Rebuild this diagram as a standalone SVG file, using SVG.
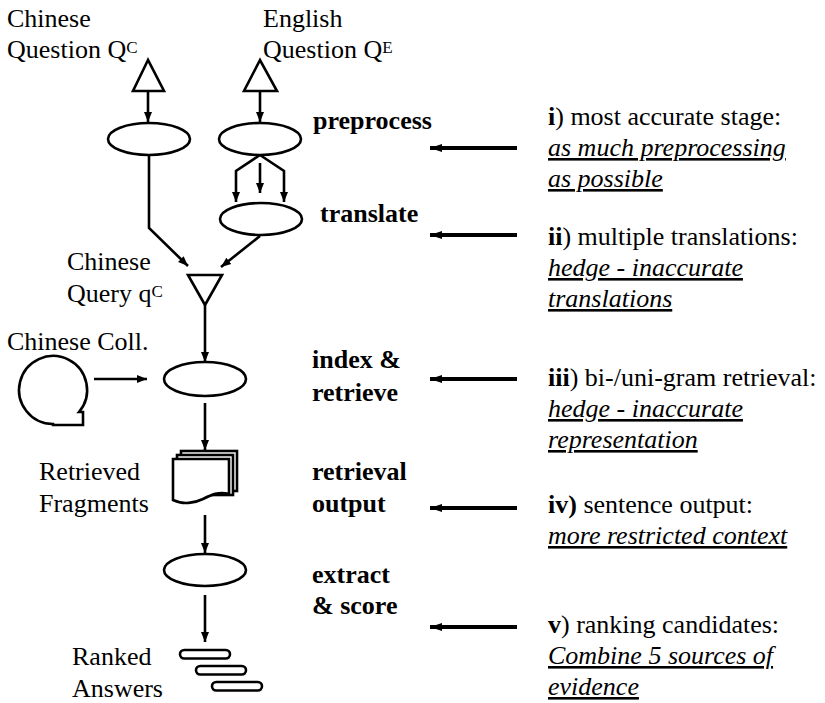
<svg xmlns="http://www.w3.org/2000/svg" width="825" height="703" viewBox="0 0 825 703" font-family="'Liberation Serif', 'Times New Roman', Times, serif">
  <style>
    text { font-size: 26px; fill: #000; }
    .b { font-weight: bold; }
    .note { text-decoration: underline; font-style: italic; }
    .sup { font-size: 17px; }
    .shape { fill: #fff; stroke: #000; stroke-width: 2.6; }
    .wire { fill: none; stroke: #000; stroke-width: 2.6; }
    .feed { fill: none; stroke: #000; stroke-width: 4; }
  </style>
  <defs>
    <marker id="head" markerUnits="userSpaceOnUse" viewBox="0 0 10 10" refX="10" refY="5" markerWidth="10" markerHeight="10" orient="auto">
      <path d="M0,1 L10,5 L0,9 Z" fill="#000"/>
    </marker>
    <marker id="bighead" markerUnits="userSpaceOnUse" viewBox="0 0 12 10" refX="12" refY="5" markerWidth="12" markerHeight="10" orient="auto">
      <path d="M0,1 L12,5 L0,9 Z" fill="#000"/>
    </marker>
  </defs>

  <rect width="825" height="703" fill="#fff"/>

  <!-- input questions -->
  <g id="chinese-question">
    <text x="7" y="27">Chinese</text>
    <text x="7" y="58">Question Q<tspan class="sup" dy="-5">C</tspan></text>
    <path class="shape" d="M148,60 L133,91 L164,91 Z"/>
  </g>
  <g id="english-question">
    <text x="263" y="27">English</text>
    <text x="263" y="58">Question Q<tspan class="sup" dy="-5">E</tspan></text>
    <path class="shape" d="M260,60 L244,91 L277,91 Z"/>
  </g>

  <!-- preprocessing -->
  <g id="preprocess-zh">
    <ellipse class="shape" cx="149" cy="139" rx="41" ry="16"/>
  </g>
  <g id="preprocess-en">
    <ellipse class="shape" cx="260" cy="139" rx="41" ry="16"/>
    <text class="b" x="313" y="129">preprocess</text>
  </g>

  <!-- translation -->
  <g id="translate">
    <ellipse class="shape" cx="261" cy="219" rx="41" ry="16"/>
    <text class="b" x="320" y="222">translate</text>
  </g>

  <!-- query -->
  <g id="chinese-query">
    <text x="67" y="270">Chinese</text>
    <text x="67" y="302">Query q<tspan class="sup" dy="-5">C</tspan></text>
    <path class="shape" d="M188,275 L222,275 L205,305 Z"/>
  </g>

  <!-- collection -->
  <g id="chinese-collection">
    <text x="7" y="350">Chinese Coll.</text>
    <path class="shape" d="M53,424 A34,34 0 1 1 79,412 L83,412 L83,425 L53,425 Z"/>
  </g>

  <!-- retrieval -->
  <g id="index-retrieve">
    <ellipse class="shape" cx="205" cy="379" rx="41" ry="17"/>
    <text class="b" x="312" y="368">index &amp;</text>
    <text class="b" x="312" y="401">retrieve</text>
  </g>

  <g id="retrieved-fragments">
    <text x="39" y="480">Retrieved</text>
    <text x="39" y="512">Fragments</text>
    <rect class="shape" x="181" y="451" width="56" height="40"/>
    <rect class="shape" x="177" y="455" width="56" height="40"/>
    <path class="shape" d="M173,459 H229 V494 C219,491 211,495 203,499 C195,503 183,505 173,500 Z"/>
    <text class="b" x="312" y="480">retrieval</text>
    <text class="b" x="312" y="512">output</text>
  </g>

  <g id="extract-score">
    <ellipse class="shape" cx="205" cy="570" rx="41" ry="16"/>
    <text class="b" x="312" y="583">extract</text>
    <text class="b" x="312" y="614">&amp; score</text>
  </g>

  <g id="ranked-answers">
    <text x="72" y="665">Ranked</text>
    <text x="72" y="697">Answers</text>
    <rect class="shape" x="180" y="650" width="50" height="8.5" rx="4.25"/>
    <rect class="shape" x="196" y="666" width="50" height="8.5" rx="4.25"/>
    <rect class="shape" x="212" y="682" width="50" height="8.5" rx="4.25"/>
  </g>

  <!-- connectors -->
  <g id="connectors">
    <path class="wire" d="M148,91 V122" marker-end="url(#head)"/>
    <path class="wire" d="M260,91 V122" marker-end="url(#head)"/>
    <path class="wire" d="M260,155 L236,171 V202" marker-end="url(#head)"/>
    <path class="wire" d="M260,163 V193" marker-end="url(#head)"/>
    <path class="wire" d="M260,155 L284,171 V202" marker-end="url(#head)"/>
    <path class="wire" d="M149,155 V228 L188,266" marker-end="url(#head)"/>
    <path class="wire" d="M260,236 L221,267" marker-end="url(#head)"/>
    <path class="wire" d="M205,305 V362" marker-end="url(#head)"/>
    <path class="wire" d="M94,379 H147" marker-end="url(#head)"/>
    <path class="wire" d="M205,403 V450" marker-end="url(#head)"/>
    <path class="wire" d="M205,515 V553" marker-end="url(#head)"/>
    <path class="wire" d="M205,595 V642" marker-end="url(#head)"/>
  </g>

  <!-- stage notes -->
  <g id="feedback-arrows">
    <path class="feed" d="M517,148 H430" marker-end="url(#bighead)"/>
    <path class="feed" d="M517,235 H430" marker-end="url(#bighead)"/>
    <path class="feed" d="M517,379 H430" marker-end="url(#bighead)"/>
    <path class="feed" d="M517,508 H430" marker-end="url(#bighead)"/>
    <path class="feed" d="M517,627 H430" marker-end="url(#bighead)"/>
  </g>

  <g id="note-i">
    <text x="548" y="125"><tspan class="b">i</tspan>) most accurate stage:</text>
    <text class="note" x="548" y="156">as much preprocessing</text>
    <text class="note" x="548" y="187">as possible</text>
  </g>
  <g id="note-ii">
    <text x="548" y="245"><tspan class="b">ii</tspan>) multiple translations:</text>
    <text class="note" x="548" y="276">hedge - inaccurate</text>
    <text class="note" x="548" y="307">translations</text>
  </g>
  <g id="note-iii">
    <text x="548" y="386"><tspan class="b">iii</tspan>) bi-/uni-gram retrieval:</text>
    <text class="note" x="548" y="417">hedge - inaccurate</text>
    <text class="note" x="548" y="448">representation</text>
  </g>
  <g id="note-iv">
    <text x="548" y="513"><tspan class="b">iv)</tspan> sentence output:</text>
    <text class="note" x="548" y="544">more restricted context</text>
  </g>
  <g id="note-v">
    <text x="548" y="633"><tspan class="b">v</tspan>) ranking candidates:</text>
    <text class="note" x="548" y="664">Combine 5 sources of</text>
    <text class="note" x="548" y="695">evidence</text>
  </g>
</svg>
